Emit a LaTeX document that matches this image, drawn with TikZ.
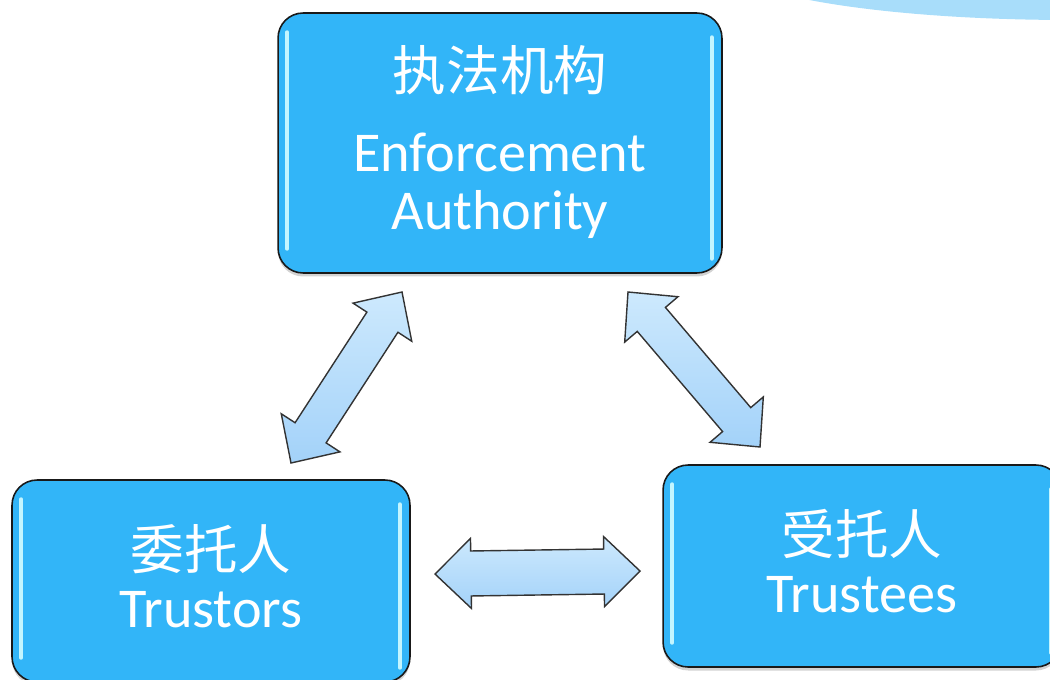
\documentclass[tikz,border=0pt]{standalone}
\usepackage{fontspec}
\setmainfont{Carlito}
\newfontfamily\cjk{Noto Sans CJK SC}
\usetikzlibrary{calc,shadows}

\definecolor{boxblue}{RGB}{50,181,248}
\definecolor{arrowblue}{RGB}{163,210,249}
\definecolor{arrowlight}{RGB}{205,233,253}
\definecolor{arcblue}{RGB}{168,221,250}
\definecolor{glintblue}{RGB}{195,245,255}

\tikzset{
	party/.style={draw=black!90, line width=0.9pt, fill=boxblue, rounded corners=0.5cm, inner sep=0pt,
		drop shadow={shadow xshift=0pt, shadow yshift=-2pt, opacity=0.35}},
	partytext/.style={text=white, align=center, font=\fontsize{32pt}{33pt}\selectfont},
	linkarrow/.style={draw=black!80, line width=0.8pt, top color=arrowlight, bottom color=arrowblue, line join=miter},
	glint/.style={glintblue, line width=2.2pt, line cap=round}
}

\newcommand{\cn}[1]{{\cjk\fontsize{30.5pt}{33pt}\selectfont #1}}

\newcommand{\dblarrow}[3]{%
	\coordinate (ha) at ($(#1)!0.72cm!(#2)$);
	\coordinate (hb) at ($(#2)!0.72cm!(#1)$);
	\draw[linkarrow] (#1) -- ($(ha)!0.7cm!90:(#2)$) -- ($(ha)!#3!90:(#2)$)
		-- ($(hb)!#3!-90:(#1)$) -- ($(hb)!0.7cm!-90:(#1)$) -- (#2)
		-- ($(hb)!0.7cm!90:(#1)$) -- ($(hb)!#3!90:(#1)$)
		-- ($(ha)!#3!-90:(#2)$) -- ($(ha)!0.7cm!-90:(#2)$) -- cycle;
}

\begin{document}
\begin{tikzpicture}[x=0.02cm, y=-0.02cm]
	\useasboundingbox (0,0) rectangle (1050,679);
	\clip (0,0) rectangle (1050,679);
	
	% backdrop arc
	\fill[arcblue] (1070,-40) ellipse [x radius=7cm, y radius=1.2cm];
	
	% parties
	\node[party, minimum width=8.88cm, minimum height=5.2cm] (authority) at (500,143) {};
	\node[party, minimum width=7.96cm, minimum height=4.04cm] (trustors) at (211,581) {};
	\node[party, minimum width=7.96cm, minimum height=4.04cm] (trustees) at (862,566) {};
	
	\foreach \n in {authority,trustors,trustees}{
		\draw[glint] ([shift={(0.2cm,-0.4cm)}]\n.north west) -- ([shift={(0.2cm,0.5cm)}]\n.south west);
		\draw[glint] ([shift={(-0.22cm,-0.5cm)}]\n.north east) -- ([shift={(-0.22cm,0.3cm)}]\n.south east);
	}
	
	\node[partytext] (authority-text) at (500,142) {\cn{执法机构}\\[13pt]Enforcement\\Authority};
	\node[partytext] (trustors-text) at (211,576) {\cn{委托人}\\Trustors};
	\node[partytext] (trustees-text) at (862,561) {\cn{受托人}\\Trustees};
	
	% links
	\coordinate (ta) at (402,292);
	\coordinate (ba) at (291,463);
	\coordinate (tb) at (628,292);
	\coordinate (bb) at (760,447);
	\coordinate (lc) at (435,574);
	\coordinate (rc) at (640,571);
	
	\dblarrow{ta}{ba}{0.37cm}
	\dblarrow{tb}{bb}{0.37cm}
	\dblarrow{lc}{rc}{0.45cm}
\end{tikzpicture}
\end{document}
